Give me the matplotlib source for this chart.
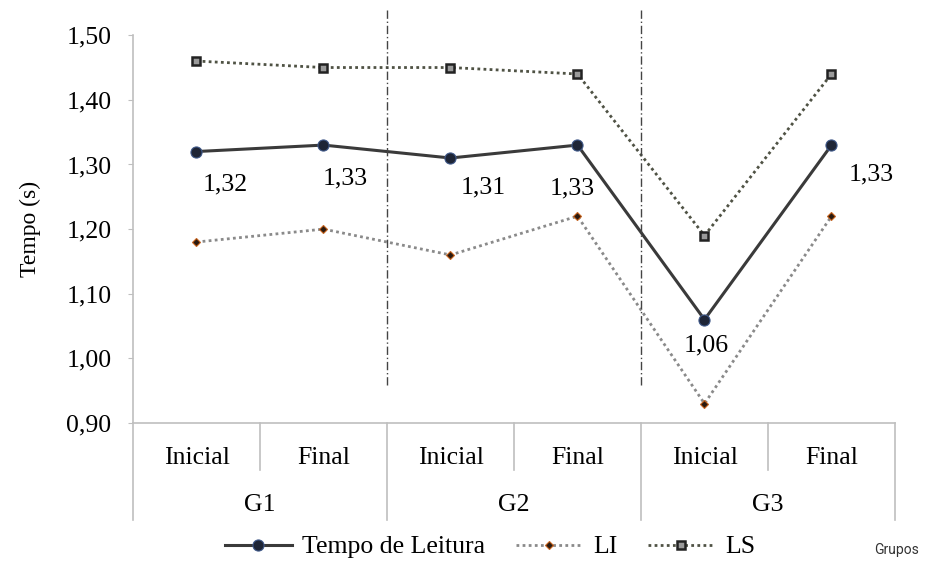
import numpy as np
import matplotlib
matplotlib.use("Agg")
import matplotlib.pyplot as plt
from matplotlib.ticker import FuncFormatter

plt.rcParams['font.family'] = 'serif'
plt.rcParams['font.serif'] = ['Liberation Serif', 'DejaVu Serif']

# Data
momentos = ["Inicial", "Final", "Inicial", "Final", "Inicial", "Final"]
grupos = ["G1", "G2", "G3"]
tempo_leitura = [1.32, 1.33, 1.31, 1.33, 1.06, 1.33]
li = [1.18, 1.20, 1.16, 1.22, 0.93, 1.22]
ls = [1.46, 1.45, 1.45, 1.44, 1.19, 1.44]

# label offsets (pixels) for the data labels of the main series
label_offsets = [(29, -33), (22, -33), (33, -29), (-5, -43), (2, -26), (40, -29)]

SERIF = ['Liberation Serif', 'DejaVu Serif']

fig = plt.figure(figsize=(9.28, 5.61), dpi=100)
ax = fig.add_axes([133 / 928, 1 - 423 / 561, (895 - 133) / 928, (423 - 10) / 561])

x = np.arange(len(momentos))

ax.plot(x, ls, linestyle=(0, (1, 1.2)), color='#4f5244', linewidth=2,
        marker='s', markersize=5.5, markerfacecolor='#9a9a9a',
        markeredgecolor='#222222', markeredgewidth=1.8, label='LS')
ax.plot(x, tempo_leitura, linestyle='-', color='#3a3a3a', linewidth=2.2,
        marker='o', markersize=8, markerfacecolor='#1e2536',
        markeredgecolor='#40598a', markeredgewidth=0.8, label='Tempo de Leitura')
ax.plot(x, li, linestyle=(0, (1, 1.2)), color='#8a8a8a', linewidth=2,
        marker='D', markersize=4.5, markerfacecolor='#2a1a10',
        markeredgecolor='#c8641e', markeredgewidth=0.8, label='LI')

for xi, v, off in zip(x, tempo_leitura, label_offsets):
    ax.annotate(f"{v:.2f}".replace('.', ','), (xi, v), xytext=off,
                textcoords='offset pixels', ha='center', va='center',
                fontsize=18.5, family=SERIF)

ax.set_xlim(-0.5, len(momentos) - 0.5)
ax.set_ylim(0.90, 1.539)
ax.set_yticks(np.arange(0.90, 1.501, 0.10))
ax.yaxis.set_major_formatter(FuncFormatter(lambda v, p: f"{v:.2f}".replace('.', ',')))
ax.tick_params(axis='y', labelsize=18.5, length=3.6, color='#bfbfbf', pad=12)
for lab in ax.get_yticklabels():
    lab.set_family(SERIF)
ax.set_xticks([])

for s in ['top', 'right']:
    ax.spines[s].set_visible(False)
ax.spines['left'].set_bounds(0.90, 1.50)
ax.spines['left'].set_color('#bfbfbf')
ax.spines['bottom'].set_color('#bfbfbf')
ax.spines['left'].set_linewidth(1.2)
ax.spines['bottom'].set_linewidth(1.2)

# dash-dot separators between groups
for xs in [1.5, 3.5]:
    ax.plot([xs, xs], [0.959, 1.539], color='#444444', linewidth=1,
            linestyle=(0, (6, 2, 1, 2)), clip_on=False)

# two-level category axis
trans = ax.get_xaxis_transform()
for xs in [0.5, 2.5, 4.5]:
    ax.plot([xs, xs], [0, -0.114], color='#bfbfbf', linewidth=1.2, transform=trans, clip_on=False)
for xs in [-0.5, 1.5, 3.5, 5.5]:
    ax.plot([xs, xs], [0, -0.235], color='#bfbfbf', linewidth=1.2, transform=trans, clip_on=False)
for xi, m in zip(x, momentos):
    ax.text(xi, -0.085, m, transform=trans, ha='center', va='center', fontsize=18.5, family=SERIF)
for gi, g in enumerate(grupos):
    ax.text(2 * gi + 0.5, -0.199, g, transform=trans, ha='center', va='center', fontsize=18.5, family=SERIF)

fig.text(30 / 928, 1 - 229 / 561, "Tempo (s)", rotation=90, ha='center', va='center',
         fontsize=17, family=SERIF)
fig.text(897 / 928, 1 - 550 / 561, "Grupos", ha='center', va='center', fontsize=10,
         family=['Roboto', 'DejaVu Sans'], color='#333333')

handles, labels = ax.get_legend_handles_labels()
order = [1, 2, 0]
fig.legend([handles[i] for i in order], [labels[i] for i in order], ncol=3,
           loc='center', bbox_to_anchor=(490 / 928, 1 - 547 / 561), frameon=False,
           prop={'family': SERIF, 'size': 18.5}, handlelength=2.6, columnspacing=1.2,
           handletextpad=0.4, borderpad=0, borderaxespad=0)

fig.savefig("out.png", dpi=100)
